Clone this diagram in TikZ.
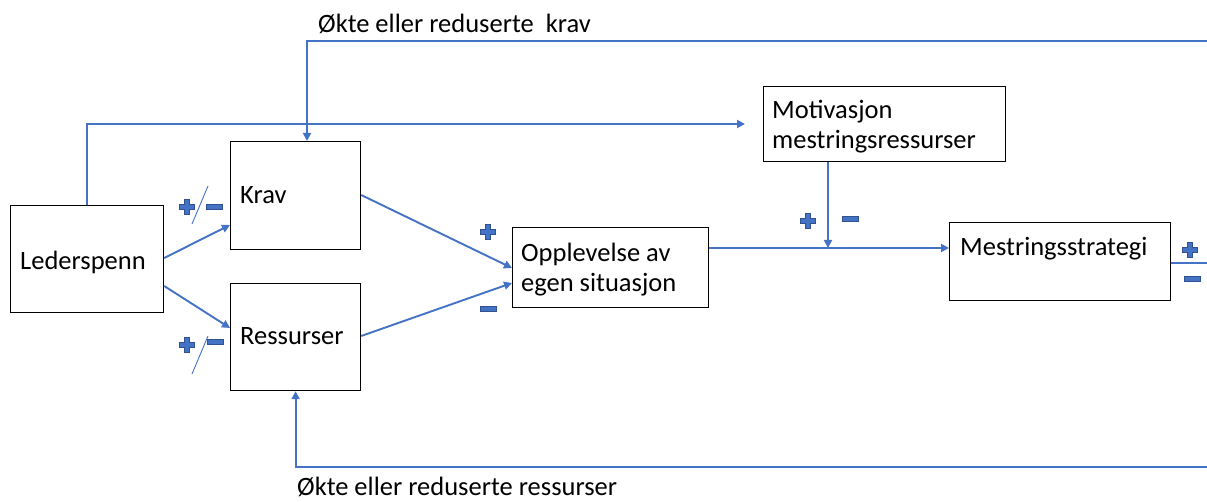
\documentclass[tikz,border=0pt]{standalone}
\usepackage{fontspec}
\setmainfont{Carlito}
\usetikzlibrary{arrows.meta}
\definecolor{lblue}{HTML}{4472C4}
\definecolor{dblue}{HTML}{2F528F}
\tikzset{
  every node/.style={font=\fontsize{26.5}{30}\selectfont},
  box/.style={draw=black, line width=1.2pt, inner sep=0pt, anchor=north west},
  lbl/.style={inner sep=0pt, anchor=west, align=left},
  conn/.style={draw=lblue, line width=1.9pt, -{Triangle[length=8pt,width=8pt]}},
  plain/.style={draw=lblue, line width=1.9pt},
  slash/.style={draw=lblue, line width=0.9pt},
  pics/plussign/.style={code={
    \filldraw[fill=lblue,draw=dblue,line width=0.8pt]
      (-7.5,-2.5) -- (-2.5,-2.5) -- (-2.5,-7.5) -- (2.5,-7.5) -- (2.5,-2.5) -- (7.5,-2.5)
      -- (7.5,2.5) -- (2.5,2.5) -- (2.5,7.5) -- (-2.5,7.5) -- (-2.5,2.5) -- (-7.5,2.5) -- cycle;}},
  pics/minussign/.style={code={
    \filldraw[fill=lblue,draw=dblue,line width=0.8pt] (-8,-2.3) rectangle (8,2.3);}}
}
\begin{document}
\begin{tikzpicture}[x=1pt,y=-1pt]
\useasboundingbox (0,0) rectangle (1207,502);

% boxes
\node[box, minimum width=153, minimum height=107] (led) at (10,205) {};
\node[box, minimum width=130, minimum height=108] (krav) at (230,141) {};
\node[box, minimum width=130, minimum height=107] (res) at (230,283) {};
\node[box, minimum width=196, minimum height=80] (opp) at (512,227) {};
\node[box, minimum width=242, minimum height=75] (mot) at (763,86) {};
\node[box, minimum width=221, minimum height=78] (mest) at (949,222) {};

% texts
\node[lbl] (ledt) at (20,262) {Lederspenn};
\node[lbl] (kravt) at (240,195) {Krav};
\node[lbl] (rest) at (240,336) {Ressurser};
\node[lbl] (oppt) at (521,270) {Opplevelse av\\egen situasjon};
\node[lbl] (mott) at (772,127) {Motivasjon\\mestringsressurser};
\node[lbl] (mestt) at (960,249) {Mestringsstrategi};
\node[lbl] (topt) at (318,24) {Økte eller reduserte\ \ krav};
\node[lbl] (bott) at (297,487) {Økte eller reduserte ressurser};

% free ends
\coordinate (motin) at (745,124);
\coordinate (topR) at (1207,41);
\coordinate (kx) at (307,0);
\coordinate (botR) at (1207,467);
\coordinate (junc) at (828,248);
\coordinate (rightE) at (1207,263);

% connectors
\draw[conn] (led.north) |- (motin);
\draw[conn] (topR) -| (krav.north -| kx);
\draw[conn] (botR) -| (res.south);
\draw[conn] (led.east |- 0,258) -- (krav.west |- 0,225);
\draw[conn] (led.east |- 0,286) -- (res.west |- 0,328);
\draw[conn] (krav.east |- 0,195) -- (opp.west |- 0,268);
\draw[conn] (res.east |- 0,336) -- (opp.west |- 0,283);
\draw[conn] (opp.east |- 0,248) -- (mest.west |- 0,248);
\draw[conn] (mot.south -| junc) -- (junc);
\draw[plain] (mest.east |- rightE) -- (rightE);

% signs
\pic (p1) at (187,207) {plussign};
\pic (m1) at (214,207) {minussign};
\draw[slash] (192,224) -- (208,186);
\pic (p2) at (187,345) {plussign};
\pic (m2) at (215,342) {minussign};
\draw[slash] (192,374) -- (208,336);
\pic (p3) at (488,232) {plussign};
\pic (m3) at (488,309) {minussign};
\pic (p4) at (808,221) {plussign};
\pic (m4) at (850,219) {minussign};
\pic (p5) at (1190,250) {plussign};
\pic (m5) at (1192,279) {minussign};
\end{tikzpicture}
\end{document}
